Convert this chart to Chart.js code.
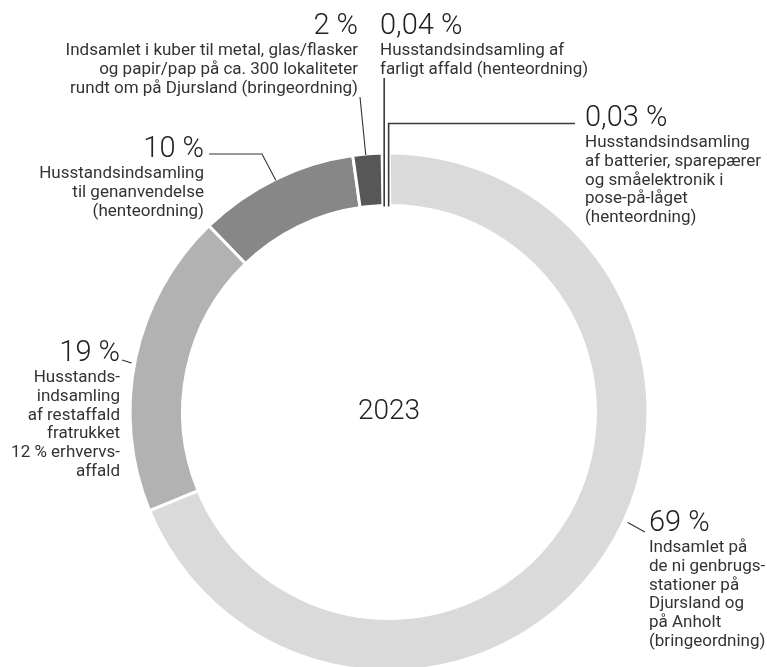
<!DOCTYPE html>
<html lang="da">
<head>
<meta charset="utf-8">
<title>Indsamling 2023</title>
<script src="https://cdn.jsdelivr.net/npm/chart.js@4.4.1/dist/chart.umd.min.js"></script>
<style>
  html, body { margin: 0; padding: 0; background: #fff; overflow: hidden; }
  #wrap { width: 767px; height: 667px; overflow: hidden; }
  canvas { display: block; }
</style>
</head>
<body>
<div id="wrap"><canvas id="myChart" width="767" height="690"></canvas></div>
<script>
// values, clockwise from the top
const shares = [69, 19, 10, 2, 0.04, 0.03];
const shareLabels = ['69 %', '19 %', '10 %', '2 %', '0,04 %', '0,03 %'];
const descriptions = [
  ['Indsamlet på', 'de ni genbrugs-', 'stationer på', 'Djursland og', 'på Anholt', '(bringeordning)'],
  ['Husstands-', 'indsamling', 'af restaffald', 'fratrukket', '12 % erhvervs-', 'affald'],
  ['Husstandsindsamling', 'til genanvendelse', '(henteordning)'],
  ['Indsamlet i kuber til metal, glas/flasker', 'og papir/pap på ca. 300 lokaliteter', 'rundt om på Djursland (bringeordning)'],
  ['Husstandsindsamling af', 'farligt affald (henteordning)'],
  ['Husstandsindsamling', 'af batterier, sparepærer', 'og småelektronik i', 'pose-på-låget', '(henteordning)']
];
const yearLabel = '2023';

const sliceColors = ['#dadada', '#b2b2b2', '#878787', '#575756', '#3a3a3a', '#3a3a3a'];
const sliceBorders = [3, 3, 3, 3, 9, 9];

// where the label blocks sit and how the leader lines run
const labelLayout = [
  {align: 'left',  x: 649, y: 531, lead: {frac: 0.465, r: 263, to: [[645, 532]]}},
  {align: 'right', x: 120, y: 361, lead: {frac: 0.485, r: 262, to: [[122, 360]]}},
  {align: 'right', x: 204, y: 157, lead: {frac: 0.5, r: 258, to: [[262, 154], [209, 154]]}},
  {align: 'right', x: 358, y: 34,  lead: {frac: 0.4, r: 258, to: [[360, 97]]}},
  {align: 'left',  x: 380, y: 34,  thin: {nudge: -2, top: 78}},
  {align: 'left',  x: 585, y: 126, thin: {nudge: 2, top: 123.5, right: 575}}
];

const numFont = '300 29px Roboto, "Open Sans", sans-serif';
const yearFont = '300 28px Roboto, "Open Sans", sans-serif';
const textFont = '400 17px Roboto, "Open Sans", sans-serif';
const lineGap = 18.8;

const leaderPlugin = {
  id: 'leaders',
  afterDatasetsDraw(chart) {
    const ctx = chart.ctx;
    const arcs = chart.getDatasetMeta(0).data;
    ctx.save();
    arcs.forEach((arc, i) => {
      const p = arc.getProps(['x', 'y', 'startAngle', 'endAngle', 'innerRadius', 'outerRadius'], true);
      const lay = labelLayout[i];
      ctx.beginPath();
      if (lay.thin) {
        const a = (p.startAngle + p.endAngle) / 2;
        const x0 = p.x + p.innerRadius * Math.cos(a) + lay.thin.nudge;
        const y0 = p.y + p.innerRadius * Math.sin(a) + 1;
        ctx.strokeStyle = '#3a3a3a';
        ctx.lineWidth = 1.6;
        ctx.moveTo(x0, y0);
        ctx.lineTo(x0, lay.thin.top);
        if (lay.thin.right) ctx.lineTo(lay.thin.right, lay.thin.top);
      } else {
        const a = p.startAngle + (p.endAngle - p.startAngle) * lay.lead.frac;
        ctx.strokeStyle = '#333';
        ctx.lineWidth = 1.1;
        ctx.moveTo(p.x + lay.lead.r * Math.cos(a), p.y + lay.lead.r * Math.sin(a));
        lay.lead.to.forEach(pt => ctx.lineTo(pt[0], pt[1]));
      }
      ctx.stroke();

      // number + description
      ctx.textAlign = lay.align;
      ctx.textBaseline = 'alphabetic';
      ctx.fillStyle = '#222';
      ctx.font = numFont;
      ctx.fillText(shareLabels[i], lay.x, lay.y);
      ctx.fillStyle = '#333';
      ctx.font = textFont;
      descriptions[i].forEach((line, k) => {
        ctx.fillText(line, lay.x, lay.y + 21 + k * lineGap);
      });
    });

    const c = arcs[0];
    ctx.textAlign = 'center';
    ctx.textBaseline = 'middle';
    ctx.fillStyle = '#222';
    ctx.font = yearFont;
    ctx.fillText(yearLabel, c.x, c.y);
    ctx.restore();
  }
};

const ctx = document.getElementById('myChart').getContext('2d');
const myChart = new Chart(ctx, {
  type: 'doughnut',
  data: {
    labels: descriptions.map(d => d.join(' ')),
    datasets: [{
      data: shares,
      backgroundColor: sliceColors,
      borderColor: '#ffffff',
      borderWidth: sliceBorders,
      hoverOffset: 0
    }]
  },
  options: {
    responsive: false,
    animation: false,
    events: [],
    rotation: -0.6,
    radius: 259,
    cutout: '79.7%',
    layout: { padding: { left: 128, right: 117, top: 151, bottom: 17 } },
    plugins: {
      legend: { display: false },
      tooltip: { enabled: false }
    }
  },
  plugins: [leaderPlugin]
});
</script>
</body>
</html>
